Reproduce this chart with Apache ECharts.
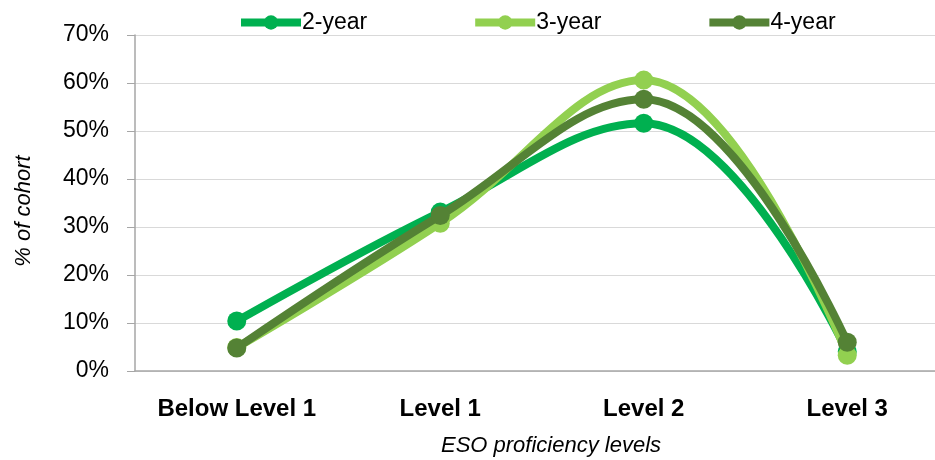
<!DOCTYPE html>
<html>
<head>
<meta charset="utf-8">
<script src="https://cdn.jsdelivr.net/npm/echarts@6/dist/echarts.min.js"></script>
<style>html,body{margin:0;padding:0;background:#fff}#c{width:935px;height:460px}</style>
</head>
<body>
<div id="c"></div>
<script>
const categories = ['Below Level 1', 'Level 1', 'Level 2', 'Level 3'];
const seriesNames = ['2-year', '3-year', '4-year'];
const twoYear = [10.4, 33.1, 51.6, 4.0];
const threeYear = [4.9, 30.8, 60.6, 3.3];
const fourYear = [4.8, 32.4, 56.6, 6.0];
const yTicks = [0, 10, 20, 30, 40, 50, 60, 70];
const colors = ['#00B050', '#92D050', '#548235'];

const FONT = 'Liberation Sans';
const chart = echarts.init(document.getElementById('c'));
const dataSets = [twoYear, threeYear, fourYear];
chart.setOption({
  animation: false,
  textStyle: { fontFamily: FONT },
  legend: {
    top: 6,
    left: 232,
    itemWidth: 60,
    itemHeight: 18,
    itemGap: 104,
    lineStyle: { width: 8 },
    textStyle: { fontSize: 23, color: '#000', fontFamily: FONT, padding: [0, 0, 0, -4] },
    data: seriesNames
  },
  grid: { left: 135, top: 35, bottom: 89, width: 814, outerBoundsMode: 'none', containLabel: false },
  xAxis: {
    type: 'category',
    data: categories,
    boundaryGap: true,
    axisLine: { lineStyle: { color: '#A6A6A6', width: 1.5 } },
    axisTick: { show: false },
    axisLabel: { interval: 0, fontSize: 24, fontWeight: 'bold', color: '#000', margin: 26, fontFamily: FONT },
    name: 'ESO proficiency levels',
    nameLocation: 'middle',
    nameGap: 64,
    nameTextStyle: { fontSize: 22, fontStyle: 'italic', color: '#000', fontFamily: FONT, padding: [0, 0, 0, 18] }
  },
  yAxis: {
    type: 'value',
    min: yTicks[0],
    max: yTicks[yTicks.length - 1],
    interval: 10,
    axisLine: { show: true, lineStyle: { color: '#A6A6A6', width: 1.5 } },
    axisTick: { show: true, length: 8, lineStyle: { color: '#A6A6A6' } },
    splitLine: { lineStyle: { color: '#D9D9D9', width: 1.2 } },
    axisLabel: { fontSize: 23, color: '#000', margin: 26, formatter: v => v + '%', fontFamily: FONT },
    name: '% of cohort',
    nameLocation: 'middle',
    nameRotate: 90,
    nameGap: 100,
    nameTextStyle: { fontSize: 22, fontStyle: 'italic', color: '#000', fontFamily: FONT, padding: [0, 0, 0, -16] }
  },
  series: seriesNames.map((n, i) => ({
    name: n,
    type: 'line',
    data: dataSets[i],
    smooth: 0.4,
    symbol: 'circle',
    symbolSize: 19,
    lineStyle: { width: 8, color: colors[i] },
    itemStyle: { color: colors[i] },
    z: 2 + i
  }))
});
</script>
</body>
</html>
